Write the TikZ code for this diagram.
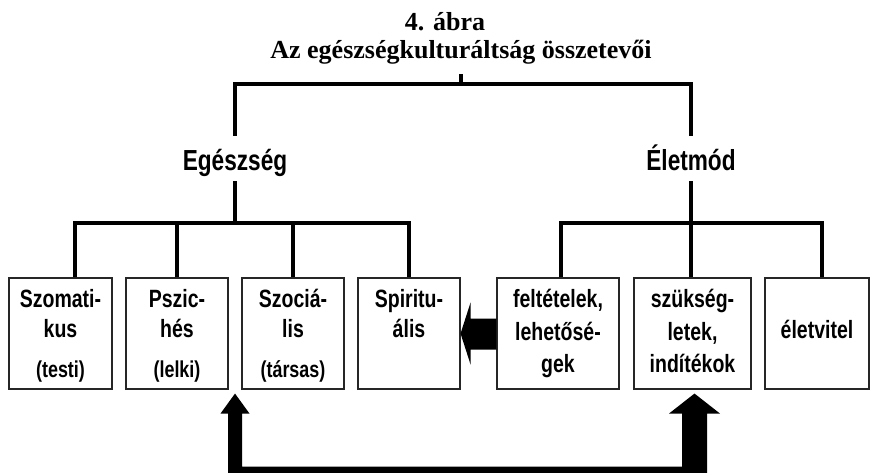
\documentclass[tikz,border=0pt]{standalone}
\usepackage{fontspec}
\setmainfont{Liberation Serif}
\newfontfamily\narrowsans[FakeStretch=0.78]{Liberation Sans}
\usetikzlibrary{calc}

\tikzset{
  wire/.style={line width=3.6pt, line join=miter},
  leaf/.style={draw=black!85, line width=1.1pt, minimum height=111pt, inner sep=0pt},
  lbl/.style={anchor=base, inner sep=0pt, font=\narrowsans\bfseries\fontsize{25}{29}\selectfont},
  sublbl/.style={lbl, font=\narrowsans\bfseries\fontsize{23}{27}\selectfont},
  head/.style={anchor=base, inner sep=0pt, text height=34pt, text depth=11pt,
    font=\narrowsans\bfseries\fontsize{29}{33}\selectfont},
  ttl/.style={anchor=base, inner sep=0pt, font=\bfseries\fontsize{26}{30}\selectfont},
  bigarrow/.style={fill=black},
}

\begin{document}
\begin{tikzpicture}[x=1pt,y=-1pt]
\useasboundingbox[fill=white] (0,0) rectangle (873,472);

% titles
\node[ttl] (fig) at (445,30) {4. ábra};
\node[ttl, text depth=16pt] (sub) at (461,58) {Az egészségkulturáltság összetevői};

% main branches
\node[head] (eg) at (235,170) {Egészség};
\node[head] (el) at (691,170) {Életmód};

% leaf boxes
\node[leaf, minimum width=103pt] (b1) at (60.5,333.5) {};
\node[leaf, minimum width=102pt] (b2) at (177,333.5) {};
\node[leaf, minimum width=102pt] (b3) at (293,333.5) {};
\node[leaf, minimum width=102pt] (b4) at (409,333.5) {};
\node[leaf, minimum width=122pt] (b5) at (558,333.5) {};
\node[leaf, minimum width=117pt] (b6) at (692.5,333.5) {};
\node[leaf, minimum width=104pt] (b7) at (817,333.5) {};

% box texts
\node[lbl] (b1a) at (60.5,307) {Szomati-};
\node[lbl] (b1b) at (60.5,337) {kus};
\node[sublbl] (b1c) at (60.5,377) {(testi)};
\node[lbl] (b2a) at (177,307) {Pszic-};
\node[lbl] (b2b) at (177,337) {hés};
\node[sublbl] (b2c) at (177,377) {(lelki)};
\node[lbl] (b3a) at (293,307) {Szociá-};
\node[lbl] (b3b) at (293,337) {lis};
\node[sublbl] (b3c) at (293,377) {(társas)};
\node[lbl] (b4a) at (409,307) {Spiritu-};
\node[lbl] (b4b) at (409,337) {ális};
\node[lbl] (b5a) at (558,307) {feltételek,};
\node[lbl] (b5b) at (558,340) {lehetősé-};
\node[lbl] (b5c) at (558,372) {gek};
\node[lbl] (b6a) at (692.5,307) {szükség-};
\node[lbl] (b6b) at (692.5,340) {letek,};
\node[lbl] (b6c) at (692.5,372) {indítékok};
\node[lbl] (b7a) at (817,338) {életvitel};

% tree connectors
\coordinate (topbar) at (461,84);
\coordinate (lbar) at (235,223);
\coordinate (rbar) at (691,223);
\draw[wire] (sub.south) -- (topbar);
\draw[wire] (eg.north) |- (topbar) -| (el.north);
\draw[wire] (eg.south) -- (lbar);
\draw[wire] ([xshift=14.5pt]b1.north) |- (lbar) -| (b4.north);
\draw[wire] (b2.north) -- (b2.north |- lbar);
\draw[wire] (b3.north) -- (b3.north |- lbar);
\draw[wire] (el.south) -- (el.south |- b6.north);
\draw[wire] ([xshift=3pt]b5.north) |- (rbar) -| ([xshift=5pt]b7.north);

% block arrow from the conditions box to the spiritual box
\fill[bigarrow] (b4.east) -- ($(b4.east)+(10,-31)$) -- ($(b4.east)+(10,-15)$)
  -- ($(b5.west)+(0,-15)$) -- ($(b5.west)+(0,16)$) -- ($(b4.east)+(10,16)$)
  -- ($(b4.east)+(10,31)$) -- cycle;

% U-shaped double arrow below the boxes
\coordinate (ltip) at ($(b2.south east)!0.5!(b3.south west)+(0,4)$);
\coordinate (rtip) at ($(b6.south)+(2,4)$);
\fill[bigarrow] (ltip) -- ($(ltip)+(14.5,20)$) -- ($(ltip)+(7,20)$) -- ($(ltip)+(7,73)$)
  -- ($(rtip)+(-12.5,73)$) -- ($(rtip)+(-12.5,20)$) -- ($(rtip)+(-25.5,20)$)
  -- (rtip) -- ($(rtip)+(25.5,20)$) -- ($(rtip)+(12.5,20)$) -- ($(rtip)+(12.5,95)$)
  -- ($(ltip)+(-7,95)$) -- ($(ltip)+(-7,20)$) -- ($(ltip)+(-14.5,20)$) -- cycle;
\end{tikzpicture}
\end{document}
